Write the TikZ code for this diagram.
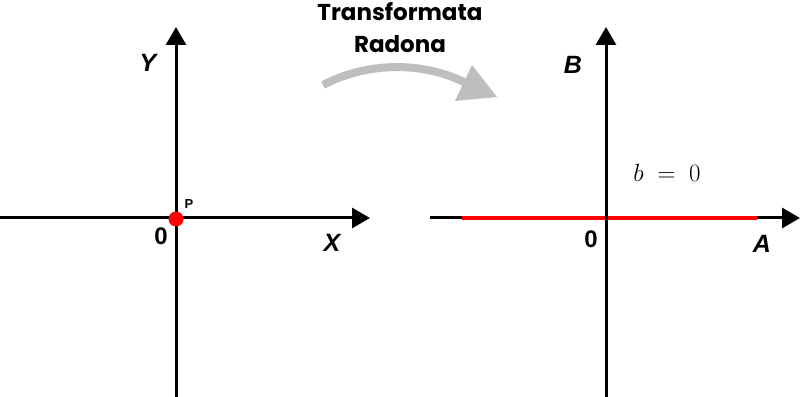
\documentclass[tikz,border=0pt]{standalone}
\usepackage{fontspec}
\setmainfont{Liberation Sans}
\newfontfamily\titlefont{Poppins}
\usetikzlibrary{arrows.meta}
\begin{document}
\begin{tikzpicture}[x=1pt,y=1pt,
  axis/.style={line width=3pt,-{Triangle[length=18pt,width=20pt]}},
  axlabel/.style={font=\fontsize{25}{25}\selectfont\bfseries\itshape,inner sep=0pt},
  zerolabel/.style={font=\fontsize{24}{24}\selectfont\bfseries,inner sep=0pt},
  titletext/.style={font=\titlefont\fontsize{23}{23}\selectfont\bfseries,inner sep=0pt}]
\useasboundingbox (0,0) rectangle (800,396);
% left axes
\coordinate (lx0) at (0,178);
\coordinate (lxe) at (370,178);
\coordinate (ly0) at (176,-2);
\coordinate (lye) at (176,369);
\draw[axis] (lx0) -- (lxe);
\draw[axis] (ly0) -- (lye);
\node[circle,fill=red,minimum size=15pt,inner sep=0pt] (P) at (176,177) {};
\node[axlabel] (Y) at (148,333) {Y};
\node[axlabel] (X) at (332,153) {X};
\node[zerolabel] (z1) at (161,159.5) {0};
\node[font=\fontsize{13}{13}\selectfont\bfseries,inner sep=0pt] (Plab) at (189,191.5) {P};
% right axes
\coordinate (rx0) at (430,178);
\coordinate (rxe) at (800,178);
\coordinate (ry0) at (606,-2);
\coordinate (rye) at (606,369);
\coordinate (r1) at (462,178);
\coordinate (r2) at (757,178);
\draw[axis] (rx0) -- (rxe);
\draw[red,line width=3.6pt] (r1) -- (r2);
\draw[axis] (ry0) -- (rye);
\node[axlabel] (B) at (573,331) {B};
\node[axlabel] (A) at (762,152) {A};
\node[zerolabel] (z2) at (591,156.5) {0};
\node[inner sep=0pt] (beq) at (667,223) {\fontsize{28}{28}\selectfont$b\;=\;0$};
% title
\node[titletext] (t1) at (400,384) {Transformata};
\node[titletext] (t2) at (400,352) {Radona};
% gray arrow
\coordinate (g1) at (323,311);
\coordinate (g2) at (466,313);
\draw[line width=8pt,color={rgb,255:red,190;green,190;blue,190}] (g1) .. controls (365,333) and (420,336) .. (g2);
\fill[color={rgb,255:red,190;green,190;blue,190}] (472,331) -- (497,299) -- (455,295) -- cycle;
\end{tikzpicture}
\end{document}
